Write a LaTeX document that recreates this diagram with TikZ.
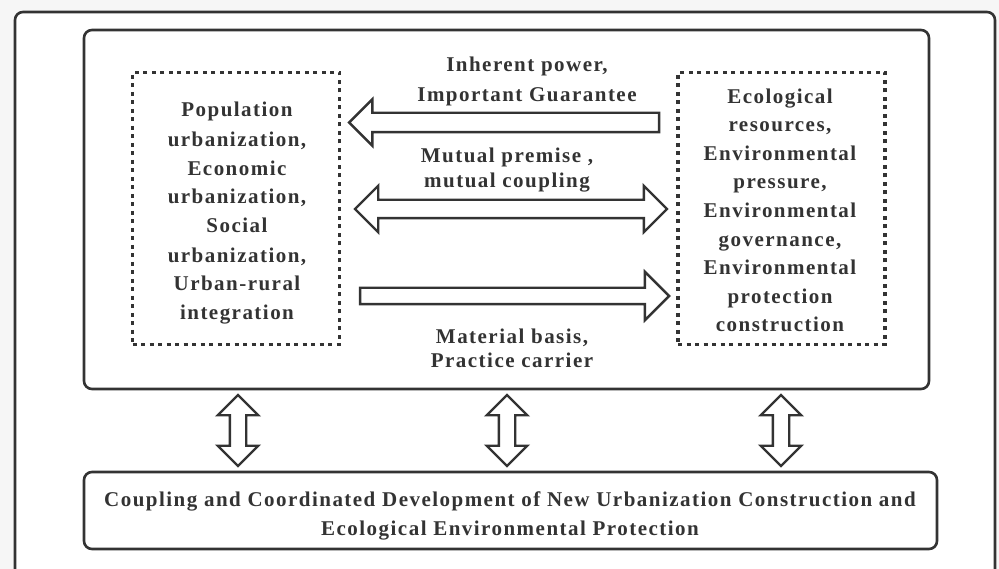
\documentclass[tikz,border=0pt]{standalone}
\usepackage{fontspec}
\setmainfont{Liberation Serif}[LetterSpace=7]
\usepackage{tikz}
\usetikzlibrary{shapes.arrows}
\definecolor{ink}{HTML}{333333}

\begin{document}
\begin{tikzpicture}[x=1pt,y=-1pt,
  frame/.style={draw=ink,line width=2.6pt,rounded corners=8pt,inner sep=0pt},
  dotbox/.style={draw=ink,line width=3.4pt,dash pattern=on 4pt off 4.5pt,
    minimum width=207pt,minimum height=272pt,inner sep=0pt},
  lbl/.style={text=ink,font=\fontsize{21}{29}\selectfont\bfseries,align=center,inner sep=0pt,anchor=base},
  blk/.style={draw=ink,fill=white,line width=2.4pt,inner sep=0pt,minimum width=1pt}]
\useasboundingbox (0,0) rectangle (999,569);
\fill[gray!7] (0,0) rectangle (999,569);
\clip (0,0) rectangle (999,569);
\draw[frame,fill=white] (15,12) rectangle (995,620);

% boxes
\node[frame,minimum width=845pt,minimum height=359pt] (sysBox) at (506.5,209.5) {};
\node[frame,minimum width=853pt,minimum height=77pt] (cplBox) at (510.5,510.5) {};
\node[dotbox] (urbBox) at (236,208.5) {};
\node[dotbox] (ecoBox) at (781.5,208.5) {};

% texts (anchored at the baseline of the last line)
\node[lbl] (urbTxt) at (237,320) {Population\\urbanization,\\Economic\\urbanization,\\Social\\urbanization,\\Urban-rural\\integration};
\node[lbl,font=\fontsize{21}{28.6}\selectfont\bfseries] (ecoTxt) at (780,332) {Ecological\\resources,\\Environmental\\pressure,\\Environmental\\governance,\\Environmental\\protection\\construction};
\node[lbl,font=\fontsize{21}{30}\selectfont\bfseries] (powTxt) at (527,102) {Inherent power,\\Important Guarantee};
\node[lbl,font=\fontsize{21}{25}\selectfont\bfseries] (mutTxt) at (507,188) {Mutual premise ,\\mutual coupling};
\node[lbl,font=\fontsize{21}{24}\selectfont\bfseries] (matTxt) at (512,367) {Material basis,\\Practice carrier};
\node[lbl] (cplTxt) at (510,535) {Coupling and Coordinated Development of New Urbanization Construction and\\Ecological Environmental Protection};

% block arrows
\node[blk,single arrow,rotate=180,minimum height=310pt,inner ysep=8.5pt,single arrow head extend=13.5pt] (powArr) at (509,122.5) {};
\node[blk,double arrow,minimum height=312pt,inner ysep=8pt,double arrow head extend=14pt] (mutArr) at (511,209) {};
\node[blk,single arrow,minimum height=309pt,inner ysep=7pt,single arrow head extend=16pt] (matArr) at (510.5,296) {};
\foreach \x/\n in {238/1,507/2,781/3}
  \node[blk,double arrow,rotate=90,minimum height=71pt,inner ysep=7pt,double arrow head extend=12pt] (vArr\n) at (\x,430.5) {};
\end{tikzpicture}
\end{document}
